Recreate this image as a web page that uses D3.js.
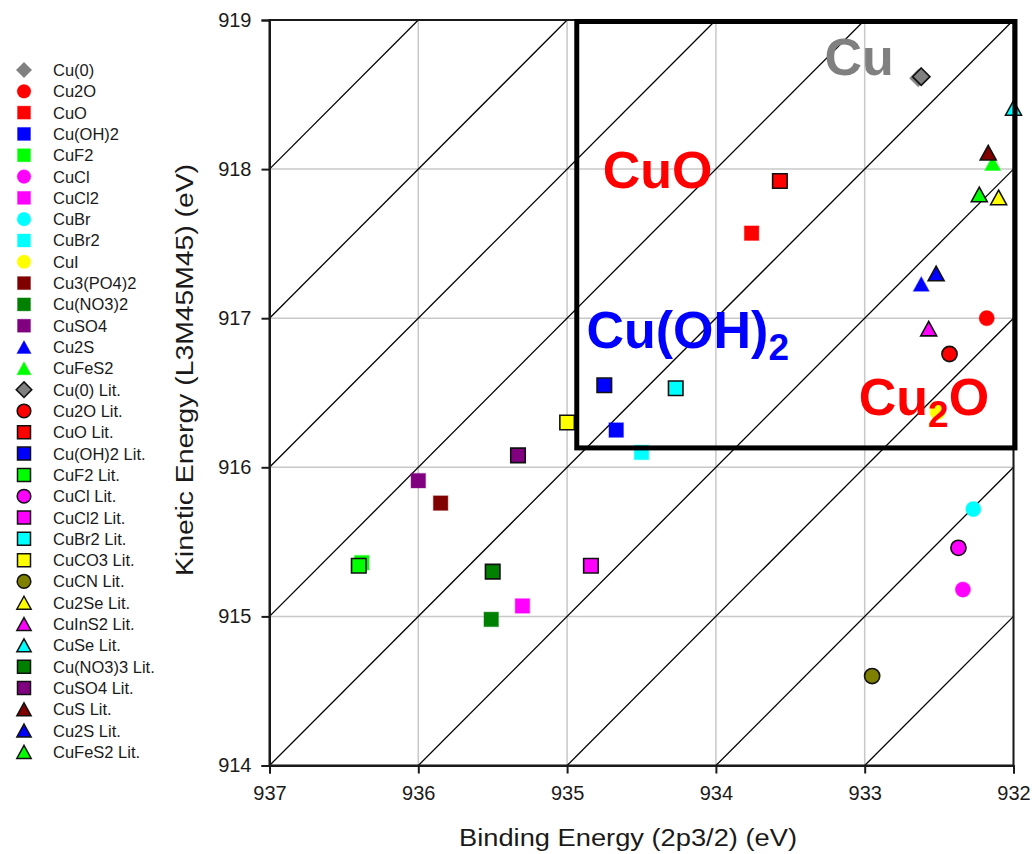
<!DOCTYPE html>
<html>
<head>
<meta charset="utf-8">
<script src="https://cdn.jsdelivr.net/npm/d3@7"></script>
<style>
  html, body { margin: 0; padding: 0; background: #fff; }
  svg { display: block; font-family: "Liberation Sans", Arial, sans-serif; }
</style>
</head>
<body>
<svg id="chart" width="1035" height="854"></svg>
<script>
// Cu 2p3/2 binding energy vs. L3M45M45 kinetic energy (Wagner-style Auger parameter plot)

const seriesNames = [
  "Cu(0)", "Cu2O", "CuO", "Cu(OH)2", "CuF2", "CuCl", "CuCl2", "CuBr", "CuBr2", "CuI",
  "Cu3(PO4)2", "Cu(NO3)2", "CuSO4", "Cu2S", "CuFeS2",
  "Cu(0) Lit.", "Cu2O Lit.", "CuO Lit.", "Cu(OH)2 Lit.", "CuF2 Lit.", "CuCl Lit.",
  "CuCl2 Lit.", "CuBr2 Lit.", "CuCO3 Lit.", "CuCN Lit.", "Cu2Se Lit.", "CuInS2 Lit.",
  "CuSe Lit.", "Cu(NO3)3 Lit.", "CuSO4 Lit.", "CuS Lit.", "Cu2S Lit.", "CuFeS2 Lit."
];
const seriesColors = [
  "#808080", "#ff0000", "#ff0000", "#0000ff", "#00ff00", "#ff00ff", "#ff00ff", "#00ffff", "#00ffff", "#ffff00",
  "#800000", "#008000", "#800080", "#0000ff", "#00ff00",
  "#808080", "#ff0000", "#ff0000", "#0000ff", "#00ff00", "#ff00ff",
  "#ff00ff", "#00ffff", "#ffff00", "#808000", "#ffff00", "#ff00ff",
  "#00ffff", "#008000", "#800080", "#800000", "#0000ff", "#00ff00"
];
const seriesShapes = [
  "diamond", "circle", "square", "square", "square", "circle", "square", "circle", "square", "circle",
  "square", "square", "square", "triangle", "triangle",
  "diamond", "circle", "square", "square", "square", "circle",
  "square", "square", "square", "circle", "triangle", "triangle",
  "triangle", "square", "square", "triangle", "triangle", "triangle"
];
// Binding energy, Cu 2p3/2 (eV)
const bindingEnergy = [
  932.64, 932.18, 933.76, 934.67, 936.38, 932.34, 935.30, 932.27, 934.50, 932.51,
  935.85, 935.51, 936.00, 932.62, 932.14,
  932.62, 932.43, 933.57, 934.75, 936.40, 932.37,
  934.84, 934.27, 935.00, 932.95, 932.10, 932.57,
  932.00, 935.50, 935.33, 932.17, 932.52, 932.23
];
// Kinetic energy, Cu L3M45M45 (eV)
const kineticEnergy = [
  918.61, 917.00, 917.57, 916.25, 915.36, 915.18, 915.07, 915.72, 916.10, 916.37,
  915.76, 914.98, 915.91, 917.23, 918.04,
  918.62, 916.76, 917.92, 916.55, 915.34, 915.46,
  915.34, 916.53, 916.30, 914.60, 917.81, 916.93,
  918.41, 915.30, 916.08, 918.11, 917.30, 917.83
];

const xTicks = [937, 936, 935, 934, 933, 932];
const yTicks = [914, 915, 916, 917, 918, 919];
// Constant Auger parameter lines: BE + KE = const (eV)
const augerSums = [1847, 1848, 1849, 1850, 1851, 1852, 1853, 1854, 1855];

// Region labels placed at (BE, KE) baselines
const regionLabels = [
  { main: "Cu", sub: "", tail: "", be: 933.27, ke: 918.63, color: "#808080" },
  { main: "CuO", sub: "", tail: "", be: 934.76, ke: 917.87, color: "#ff0000" },
  { main: "Cu(OH)", sub: "2", tail: "", be: 934.87, ke: 916.80, color: "#0000ff" },
  { main: "Cu", sub: "2", tail: "O", be: 933.04, ke: 916.35, color: "#ff0000" }
];
// Highlight box corners (BE, KE)
const boxBE = [934.935, 931.99];
const boxKE = [916.13, 918.99];

const svg = d3.select("#chart");

const x = d3.scaleLinear().domain([937, 932]).range([269.5, 1013.5]);
const y = d3.scaleLinear().domain([914, 919]).range([765.5, 20]);

const [x0, x1] = x.range();
const [y0, y1] = y.range();

svg.append("defs").append("clipPath").attr("id", "plotClip")
  .append("rect").attr("x", x0).attr("y", y1).attr("width", x1 - x0).attr("height", y0 - y1);

// Grid
const grid = svg.append("g");
grid.selectAll("line.gx").data(xTicks).join("line")
  .attr("x1", d => x(d)).attr("x2", d => x(d)).attr("y1", y0).attr("y2", y1)
  .attr("stroke", "#c8c8c8").attr("stroke-width", 1.5);
grid.selectAll("line.gy").data(yTicks).join("line")
  .attr("y1", d => y(d)).attr("y2", d => y(d)).attr("x1", x0).attr("x2", x1)
  .attr("stroke", "#c8c8c8").attr("stroke-width", 1.5);

// Auger parameter diagonals
const diag = svg.append("g").attr("clip-path", "url(#plotClip)");
diag.selectAll("line").data(augerSums).join("line")
  .attr("x1", s => x(Math.min(937, s - 914))).attr("y1", s => y(s - Math.min(937, s - 914)))
  .attr("x2", s => x(Math.max(932, s - 919))).attr("y2", s => y(s - Math.max(932, s - 919)))
  .attr("stroke", "#000").attr("stroke-width", 1.3);

// Frame
svg.append("rect").attr("x", x0).attr("y", y1).attr("width", x1 - x0).attr("height", y0 - y1)
  .attr("fill", "none").attr("stroke", "#1a1a1a").attr("stroke-width", 2);

// Axes
const axisX = svg.append("g").attr("transform", `translate(0,${y0})`)
  .call(d3.axisBottom(x).tickValues(xTicks).tickSize(8).tickPadding(10).tickFormat(d3.format("d")));
const axisY = svg.append("g").attr("transform", `translate(${x0},0)`)
  .call(d3.axisLeft(y).tickValues(yTicks).tickSize(8).tickPadding(10).tickFormat(d3.format("d")));
[axisX, axisY].forEach(g => {
  g.select(".domain").attr("stroke", "#1a1a1a").attr("stroke-width", 2);
  g.selectAll(".tick line").attr("stroke", "#1a1a1a").attr("stroke-width", 2);
  g.selectAll(".tick text").attr("font-size", 20).attr("fill", "#1a1a1a")
    .attr("font-family", "'Liberation Sans', Arial, sans-serif");
});
axisX.selectAll(".tick text").attr("dy", "0.8em");

// Axis titles
svg.append("text").attr("x", 628).attr("y", 846)
  .attr("text-anchor", "middle").attr("font-size", 23).attr("fill", "#1a1a1a")
  .attr("textLength", 338).attr("lengthAdjust", "spacingAndGlyphs")
  .text("Binding Energy (2p3/2) (eV)");
svg.append("text").attr("transform", "translate(193,370) rotate(-90)")
  .attr("text-anchor", "middle").attr("font-size", 23).attr("fill", "#1a1a1a")
  .attr("textLength", 412).attr("lengthAdjust", "spacingAndGlyphs")
  .text("Kinetic Energy (L3M45M45) (eV)");

// Marker path generator (centered on 0,0)
function markerPath(shape, s) {
  const h = s / 2;
  if (shape === "square") return `M${-h},${-h}H${h}V${h}H${-h}Z`;
  if (shape === "diamond") { const r = h * 1.2; return `M0,${-r}L${r},0L0,${r}L${-r},0Z`; }
  if (shape === "triangle") { const w = h * 1.1; return `M0,${-h}L${w},${h}L${-w},${h}Z`; }
  const r = h * 1.05;
  return `M${r},0A${r},${r} 0 1,1 ${-r},0A${r},${r} 0 1,1 ${r},0Z`;
}

const points = seriesNames.map((name, i) => ({
  name, color: seriesColors[i], shape: seriesShapes[i], lit: name.endsWith("Lit."),
  be: bindingEnergy[i], ke: kineticEnergy[i]
}));

// Data markers
svg.append("g").selectAll("path").data(points).join("path")
  .attr("transform", d => `translate(${x(d.be)},${y(d.ke)})`)
  .attr("d", d => markerPath(d.shape, 14.5))
  .attr("fill", d => d.color)
  .attr("stroke", d => d.lit ? "#111" : d.color)
  .attr("stroke-opacity", d => d.lit ? 1 : 0.35)
  .attr("stroke-width", d => d.lit ? 1.6 : 1.2);

// Highlight box
svg.append("rect")
  .attr("x", x(boxBE[0])).attr("y", y(boxKE[1]))
  .attr("width", x(boxBE[1]) - x(boxBE[0])).attr("height", y(boxKE[0]) - y(boxKE[1]))
  .attr("fill", "none").attr("stroke", "#000").attr("stroke-width", 5);

// Region labels
const lbl = svg.append("g").selectAll("text").data(regionLabels).join("text")
  .attr("x", d => x(d.be)).attr("y", d => y(d.ke))
  .attr("font-size", 52).attr("font-weight", "bold").attr("fill", d => d.color);
lbl.append("tspan").text(d => d.main);
lbl.filter(d => d.sub).append("tspan").attr("font-size", 37).attr("dy", 12).text(d => d.sub);
lbl.filter(d => d.tail).append("tspan").attr("dy", -12).text(d => d.tail);

// Legend
const legend = svg.append("g");
const rows = legend.selectAll("g").data(points).join("g")
  .attr("transform", (d, i) => `translate(0,${70 + i * 21.31})`);
rows.append("path")
  .attr("transform", "translate(24,0)")
  .attr("d", d => markerPath(d.shape, 13))
  .attr("fill", d => d.color)
  .attr("stroke", d => d.lit ? "#111" : d.color)
  .attr("stroke-opacity", d => d.lit ? 1 : 0.35)
  .attr("stroke-width", d => d.lit ? 1.5 : 1);
rows.append("text").attr("x", 53).attr("y", 6)
  .attr("font-size", 16.5).attr("fill", "#1a1a1a").text(d => d.name);
</script>
</body>
</html>
